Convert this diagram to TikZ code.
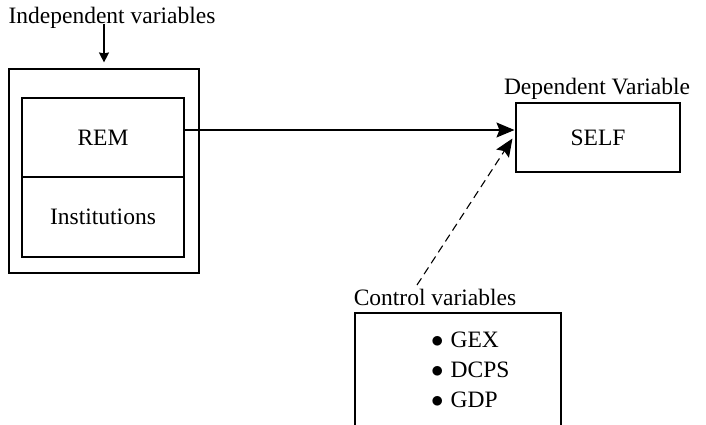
\documentclass[tikz,border=0pt]{standalone}
\usepackage{fontspec}
\setmainfont{Liberation Serif}
\usetikzlibrary{arrows.meta}

\tikzset{
	box/.style={draw, line width=1.1pt, inner sep=0pt},
	lbl/.style={inner sep=0pt},
	arr/.style={-{Stealth[length=18pt,width=15pt,inset=3pt]}, line width=1.1pt},
	smallarr/.style={-{Stealth[length=10pt,width=10pt,inset=1pt]}, line width=1.1pt},
}
\newcommand{\itm}{$\bullet$\hspace{7pt}}

\begin{document}
\begin{tikzpicture}[x=1pt,y=-1pt,font=\fontsize{23.5}{30}\selectfont]
	\clip (0,0) rectangle (706,424);
	% independent block
	\node [lbl] (indeplbl) at (112,18) {Independent variables};
	\node [box, minimum width=190pt, minimum height=204pt] (indep) at (104,171) {};
	\node [box, minimum width=162pt, minimum height=79pt] (rem) at (103,137.5) {REM};
	\node [box, minimum width=162pt, minimum height=80pt] (inst) at (103,217) {Institutions};
	\draw [smallarr] (indeplbl.south -| indep.north) ++(0,-5) -- ([yshift=6pt]indep.north);
	% dependent block
	\node [lbl] (deplbl) at (597,89) {Dependent Variable};
	\node [box, minimum width=164pt, minimum height=69pt] (self) at (598,137.5) {SELF};
	% control block
	\node [lbl] (ctrllbl) at (435,297) {Control variables};
	\node [box, minimum width=206pt, minimum height=140pt] (ctrl) at (458,383) {};
	\node [lbl, anchor=west, align=left] (ctrllist) at (431,370)
		{\itm GEX\\\itm DCPS\\\itm GDP};
	\coordinate (dstart) at (417,285);
	% arrows
	\draw [arr] (rem.east |- 0,130) -- ([yshift=7.5pt,xshift=-1pt]self.west);
	\draw [arr, dash pattern=on 8pt off 5pt] (dstart) -- ([xshift=-3pt,yshift=-1pt]self.west);
\end{tikzpicture}
\end{document}
